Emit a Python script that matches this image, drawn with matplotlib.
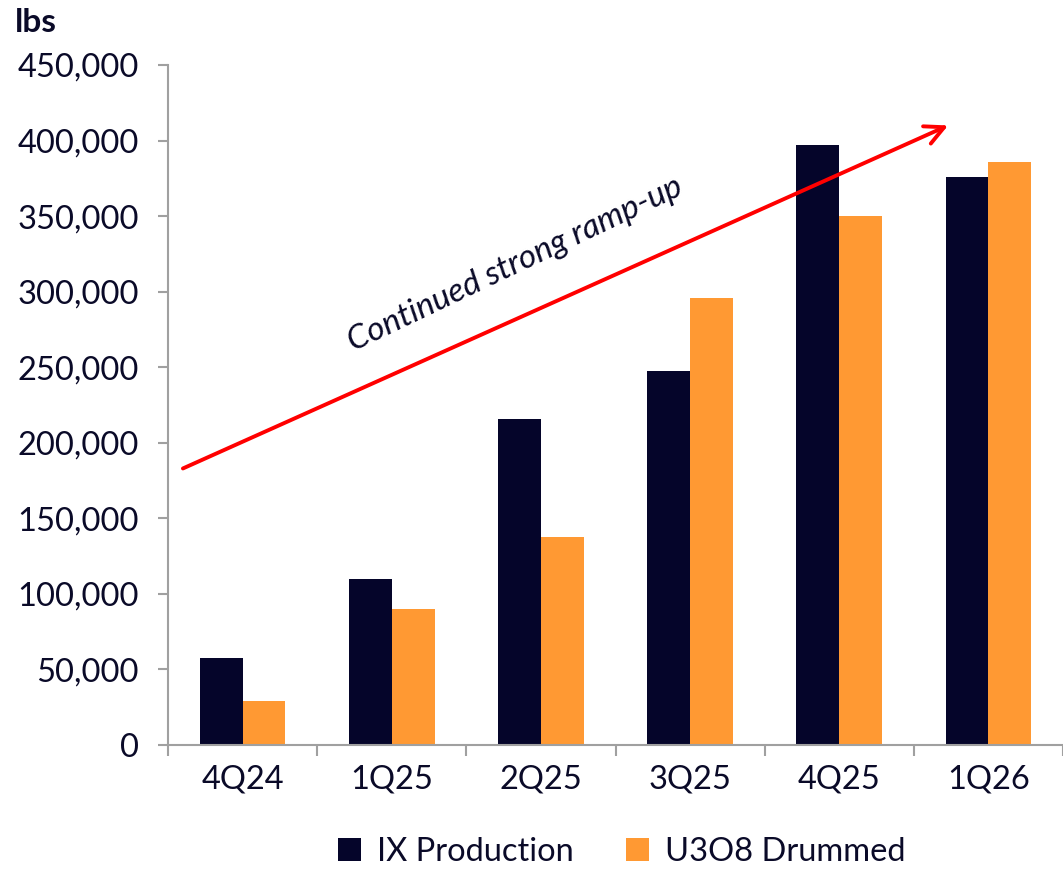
import matplotlib
matplotlib.use("Agg")
import matplotlib.pyplot as plt
from matplotlib.ticker import FuncFormatter, FixedLocator
import numpy as np

categories = ["4Q24", "1Q25", "2Q25", "3Q25", "4Q25", "1Q26"]
ix_production = [57500, 110000, 215500, 247500, 397000, 376000]
u3o8_drummed = [29000, 90000, 137500, 296000, 350000, 386000]
y_ticks = [0, 50000, 100000, 150000, 200000, 250000, 300000, 350000, 400000, 450000]

NAVY = "#05052A"
ORANGE = "#FF9933"
TXT = "#0A0A28"
GRID = "#A0A0A0"

plt.rcParams['font.family'] = ['Lato', 'DejaVu Sans']

fig = plt.figure(figsize=(10.63, 8.69), dpi=100)
ax = fig.add_axes([168/1063, 1-745/869, 1-168/1063, (745-65)/869])

x = np.arange(len(categories))
w = 0.287
ax.bar(x - w/2, ix_production, w, color=NAVY, label="IX Production", zorder=2)
ax.bar(x + w/2, u3o8_drummed, w, color=ORANGE, label="U3O8 Drummed", zorder=2)

ax.set_xlim(-0.5, len(categories) - 0.5)
ax.set_ylim(0, 450000)
ax.set_yticks(y_ticks)
ax.yaxis.set_major_formatter(FuncFormatter(lambda v, p: f"{int(v):,}"))
ax.set_xticks(x)
ax.set_xticklabels(categories)
ax.xaxis.set_minor_locator(FixedLocator(np.arange(-0.5, len(categories))))
ax.tick_params(axis='x', which='major', length=0, pad=14, labelsize=23.5, colors=TXT)
ax.tick_params(axis='x', which='minor', length=8, width=1.5, color=GRID)
ax.tick_params(axis='y', length=7, width=1.5, color=GRID, labelsize=23.5, labelcolor=TXT, pad=14)

for s in ["top", "right"]:
    ax.spines[s].set_visible(False)
for s in ["left", "bottom"]:
    ax.spines[s].set_color(GRID)
    ax.spines[s].set_linewidth(1.5)

# arrow
ax.annotate("", xy=(4.73, 410000), xytext=(-0.40, 183000),
            arrowprops=dict(arrowstyle="->", color="#FF0000", lw=2.8,
                            mutation_scale=34, shrinkA=0, shrinkB=0), zorder=3)
ax.text(1.83, 318000, "Continued strong ramp-up", rotation=25.5, style='italic',
        fontsize=24, color=TXT, ha='center', va='center', rotation_mode='anchor')

fig.text(15/1063, 1-22/869, "lbs", fontsize=24, fontweight='bold', color=TXT,
         ha='left', va='center')

leg = fig.legend(*ax.get_legend_handles_labels(), loc='center',
                 bbox_to_anchor=(622/1063, 1-852/869), ncol=2,
                 frameon=False, fontsize=23.5, handlelength=0.7, handleheight=0.7,
                 handletextpad=0.5, columnspacing=1.6, labelcolor=TXT, borderpad=0.1)

fig.savefig("out.png", dpi=100)
